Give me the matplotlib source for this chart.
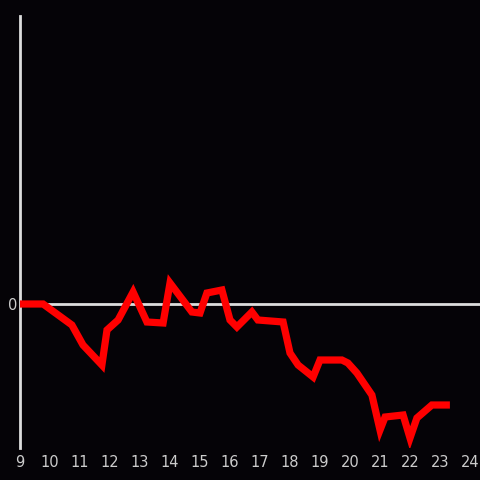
import matplotlib
matplotlib.use("Agg")
import matplotlib.pyplot as plt

hours = [9.0, 9.77, 10.73, 11.1, 11.73, 11.9, 12.27, 12.77, 13.23, 13.77, 14.0,
         14.73, 15.0, 15.23, 15.73, 16.0, 16.23, 16.73, 16.93, 17.77, 18.0, 18.27,
         18.77, 19.0, 19.73, 19.93, 20.23, 20.73, 21.0, 21.17, 21.77, 22.0, 22.23,
         22.73, 23.33]
values = [0, 0, -21, -41, -61, -26, -16, 12, -18, -19, 21,
          -8, -9, 11, 14, -16, -23, -8, -16, -18, -49, -61,
          -73, -56, -56, -59, -69, -91, -126, -113, -111, -134, -114,
          -101, -101]
xticks = list(range(9, 25))
yticks = [0]

bg = "#050307"
fig = plt.figure(figsize=(4.8, 4.8), dpi=100, facecolor=bg)
ax = fig.add_axes([20/480, 32/480, 460/480, 432/480])
ax.set_facecolor(bg)

ax.plot(hours, values, color="#ff0000", lw=5.2, solid_joinstyle="miter",
        solid_capstyle="butt", zorder=3)
ax.axhline(0, color="#dddddd", lw=2, zorder=2)

ax.set_xlim(9, 9 + 460/30)
ax.set_ylim(-144, 288)
ax.set_xticks(xticks)
ax.set_yticks(yticks)
ax.tick_params(length=0, colors="#cccccc", labelsize=10.5, pad=5)
ax.tick_params(axis="y", pad=2)
for s in ["top", "right", "bottom"]:
    ax.spines[s].set_visible(False)
ax.spines["left"].set_color("#dddddd")
ax.spines["left"].set_linewidth(2)

fig.savefig("out.png", dpi=100, facecolor=bg)
